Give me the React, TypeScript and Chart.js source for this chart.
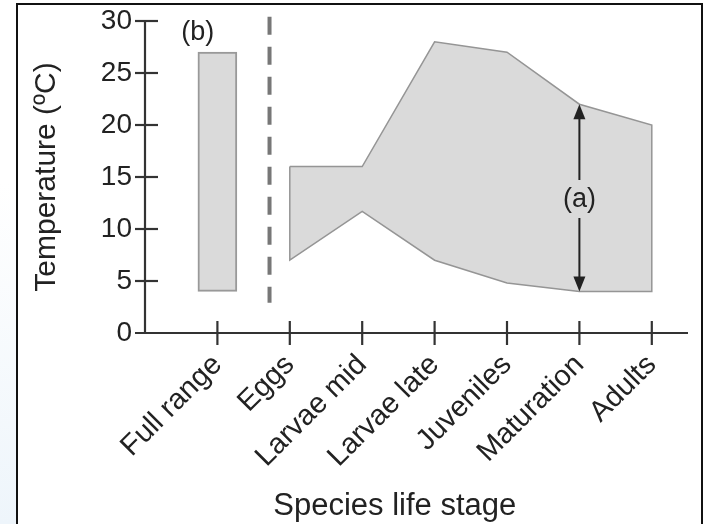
import React, { useEffect, useRef } from "react";
import { Chart, registerables } from "chart.js";

Chart.register(...registerables);

// ---- Data ----
const stages = ["Full range", "Eggs", "Larvae mid", "Larvae late", "Juveniles", "Maturation", "Adults"];
// Tolerance range per life stage (Eggs .. Adults)
const upperTemp = [16, 16, 28, 27, 22, 20];
const lowerTemp = [7, 11.7, 7, 4.8, 4, 4];
// Full range of the species (b)
const fullRange = [4, 27];
const yTicks = [0, 5, 10, 15, 20, 25, 30];
// separator and annotation anchors (data units)
const separatorX = 0.72;
const separatorRange = [30.4, 2.9];
const labelA = { stage: 5, y: 12.8, text: "(a)" };
const labelB = { x: -0.27, y: 28.9, text: "(b)" };
const xTitle = { text: "Species life stage", x: 2.45 };

const FONT = "'Liberation Sans', Arial, Helvetica, sans-serif";
const TEXT = "#222222";

const overlayPlugin = {
  id: "overlay",
  afterDatasetsDraw(chart: any) {
    const { ctx, scales } = chart;
    const x = scales.x;
    const y = scales.y;
    ctx.save();
    ctx.strokeStyle = "#333333";
    ctx.lineWidth = 2.2;
    const x0 = x.getPixelForValue(x.min);
    const y0 = y.getPixelForValue(0);
    // y axis line
    ctx.beginPath();
    ctx.moveTo(x0, y0);
    ctx.lineTo(x0, y.getPixelForValue(yTicks[yTicks.length - 1]));
    ctx.stroke();
    // x axis line
    ctx.beginPath();
    ctx.moveTo(x0 - 10, y0);
    ctx.lineTo(x.getPixelForValue(x.max), y0);
    ctx.stroke();
    // y tick marks crossing the axis
    yTicks.forEach((v) => {
      if (v === 0) return;
      const py = y.getPixelForValue(v);
      ctx.beginPath();
      ctx.moveTo(x0 - 10, py);
      ctx.lineTo(x0 + 13, py);
      ctx.stroke();
    });
    // x tick marks crossing the axis
    stages.forEach((_, i) => {
      const px = x.getPixelForValue(i);
      ctx.beginPath();
      ctx.moveTo(px, y0 - 12);
      ctx.lineTo(px, y0 + 12);
      ctx.stroke();
    });

    // arrow (a)
    const ax = x.getPixelForValue(labelA.stage);
    const top = y.getPixelForValue(upperTemp[labelA.stage - 1]);
    const bot = y.getPixelForValue(lowerTemp[labelA.stage - 1]);
    const ly = y.getPixelForValue(labelA.y);
    ctx.strokeStyle = "#222";
    ctx.fillStyle = "#222";
    ctx.lineWidth = 2;
    ctx.beginPath();
    ctx.moveTo(ax, top + 10);
    ctx.lineTo(ax, ly - 20);
    ctx.moveTo(ax, ly + 18);
    ctx.lineTo(ax, bot - 10);
    ctx.stroke();
    ctx.beginPath();
    ctx.moveTo(ax, top);
    ctx.lineTo(ax - 6, top + 15);
    ctx.lineTo(ax + 6, top + 15);
    ctx.closePath();
    ctx.fill();
    ctx.beginPath();
    ctx.moveTo(ax, bot);
    ctx.lineTo(ax - 6, bot - 15);
    ctx.lineTo(ax + 6, bot - 15);
    ctx.closePath();
    ctx.fill();

    ctx.font = `27px ${FONT}`;
    ctx.fillStyle = TEXT;
    ctx.textAlign = "center";
    ctx.textBaseline = "middle";
    ctx.fillText(labelA.text, ax, ly);
    ctx.fillText(labelB.text, x.getPixelForValue(labelB.x), y.getPixelForValue(labelB.y));

    // x axis title
    ctx.font = `31px ${FONT}`;
    ctx.fillText(xTitle.text, x.getPixelForValue(xTitle.x), x.bottom - 18);
    ctx.restore();
  },
};

export default function App() {
  const ref = useRef<HTMLCanvasElement | null>(null);

  useEffect(() => {
    if (!ref.current) return;
    const polygon = [
      ...upperTemp.map((v, i) => ({ x: i + 1, y: v })),
      ...lowerTemp.map((v, i) => ({ x: i + 1, y: v })).reverse(),
      { x: 1, y: upperTemp[0] },
    ];
    const chart = new Chart(ref.current, {
      type: "line",
      data: {
        datasets: [
          {
            type: "bar",
            data: [{ x: 0, y: fullRange }],
            backgroundColor: "#dadada",
            borderColor: "#999999",
            borderWidth: 2,
            borderSkipped: false,
            barThickness: 39,
          } as any,
          {
            type: "line",
            data: polygon,
            borderColor: "#959595",
            borderWidth: 1.5,
            backgroundColor: "#dadada",
            fill: "shape",
            pointRadius: 0,
            tension: 0,
          } as any,
          {
            type: "line",
            data: [
              { x: separatorX, y: separatorRange[0] },
              { x: separatorX, y: separatorRange[1] },
            ],
            borderColor: "#777777",
            borderWidth: 4,
            borderDash: [18, 12],
            pointRadius: 0,
            fill: false,
            clip: false,
          } as any,
        ],
      },
      options: {
        responsive: false,
        animation: false,
        layout: { padding: { top: 21, right: 17, left: 0, bottom: 0 } },
        plugins: { legend: { display: false }, tooltip: { enabled: false } },
        scales: {
          x: {
            type: "linear",
            min: -1,
            max: 6.5,
            offset: false,
            grid: { display: false, drawTicks: false },
            border: { display: false },
            afterBuildTicks: (s: any) => {
              s.ticks = stages.map((_, i) => ({ value: i }));
            },
            afterFit: (s: any) => {
              s.height = 191;
              s.paddingLeft = 0;
              s.paddingRight = 0;
            },
            ticks: {
              autoSkip: false,
              maxRotation: 45,
              minRotation: 45,
              padding: 15,
              color: TEXT,
              font: { family: FONT, size: 29 },
              callback: (v: any) => stages[v] ?? "",
            },
            title: { display: false },
          },
          y: {
            type: "linear",
            min: 0,
            max: 30,
            grid: { display: false, drawTicks: false },
            border: { display: false },
            afterBuildTicks: (s: any) => {
              s.ticks = yTicks.map((v) => ({ value: v }));
            },
            afterFit: (s: any) => {
              s.width = 145;
              s.paddingTop = 0;
              s.paddingBottom = 0;
            },
            ticks: {
              padding: 13,
              color: TEXT,
              font: { family: FONT, size: 28 },
            },
            title: {
              display: true,
              text: "Temperature (ºC)",
              color: TEXT,
              font: { family: FONT, size: 30 },
              padding: { top: 29, bottom: 0 },
            },
          },
        },
      },
      plugins: [overlayPlugin],
    } as any);
    return () => chart.destroy();
  }, []);

  return (
    <div style={{ position: "fixed", left: 0, top: 0, width: 705, height: 524, overflow: "hidden", background: "#fff" }}>
      <div
        style={{
          position: "absolute",
          left: 0,
          top: 0,
          width: 16,
          height: 524,
          background: "linear-gradient(to bottom, #ffffff 0%, #ffffff 35%, #eef5fb 100%)",
        }}
      />
      <canvas ref={ref} width={705} height={524} style={{ position: "absolute", left: 0, top: 0 }} />
      <div
        style={{
          position: "absolute",
          left: 16,
          top: 3,
          width: 703 - 16,
          height: 600,
          border: "2px solid #111",
          boxSizing: "border-box",
          pointerEvents: "none",
        }}
      />
    </div>
  );
}
